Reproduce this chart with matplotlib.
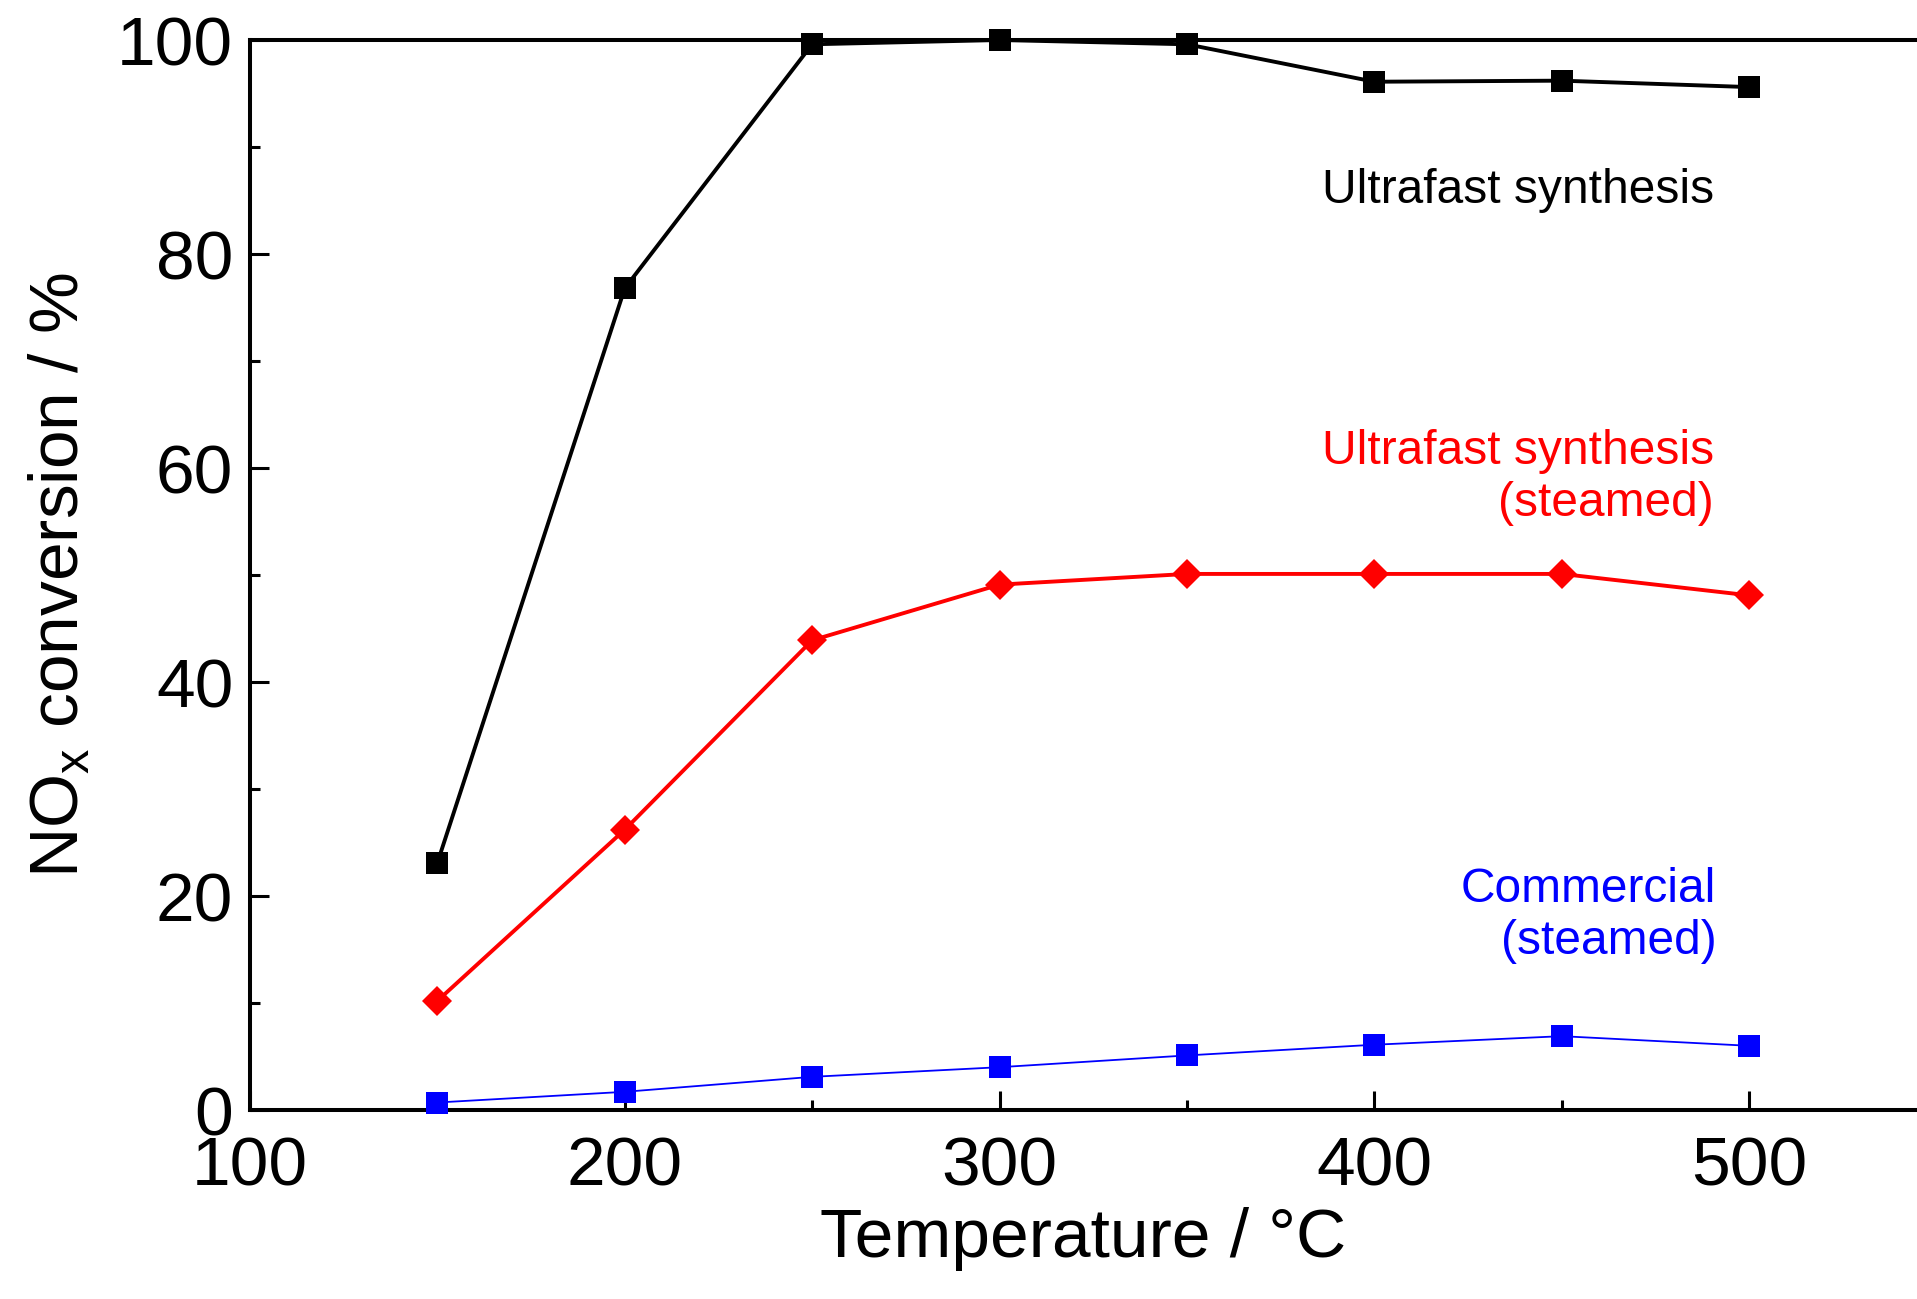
import numpy as np
import matplotlib.pyplot as plt
from matplotlib.ticker import MultipleLocator

plt.rcParams['font.family'] = ['Liberation Sans', 'DejaVu Sans']

temperature = [150, 200, 250, 300, 350, 400, 450, 500]
ultrafast = [23.1, 76.8, 99.6, 100.0, 99.6, 96.1, 96.2, 95.6]
ultrafast_steamed = [10.2, 26.2, 43.9, 49.1, 50.1, 50.1, 50.1, 48.1]
commercial_steamed = [0.7, 1.7, 3.1, 4.0, 5.1, 6.1, 6.9, 6.0]

fig = plt.figure(figsize=(19.17, 12.99), dpi=100)
ax = fig.add_axes([250 / 1917, 1 - 1110 / 1299, 1 - 250 / 1917, 1070 / 1299])

ax.plot(temperature, ultrafast, color='black', lw=2.8, marker='s', ms=16.5,
        mew=0, clip_on=False, zorder=3)
ax.plot(temperature, ultrafast_steamed, color='red', lw=2.8, marker='D', ms=15.5,
        mew=0, clip_on=False, zorder=3)
ax.plot(temperature, commercial_steamed, color='blue', lw=1.3, marker='s', ms=16.5,
        mew=0, clip_on=False, zorder=3)

ax.text(490.7, 85.9, 'Ultrafast synthesis', color='black', fontsize=34.5,
        ha='right', va='center')
ax.text(490.7, 59.1, 'Ultrafast synthesis\n(steamed)', color='red', fontsize=34.5,
        ha='right', va='center', multialignment='right')
ax.text(491.3, 18.2, 'Commercial\n(steamed)', color='blue', fontsize=34.5,
        ha='right', va='center', multialignment='right')

ax.set_xlim(100, 544.8)
ax.set_ylim(0, 100)
ax.xaxis.set_major_locator(MultipleLocator(100))
ax.xaxis.set_minor_locator(MultipleLocator(50))
ax.yaxis.set_major_locator(MultipleLocator(20))
ax.yaxis.set_minor_locator(MultipleLocator(10))

ax.spines['right'].set_visible(False)
for s in ['left', 'bottom', 'top']:
    ax.spines[s].set_linewidth(2.9)

ax.tick_params(which='major', direction='in', length=14, width=2.2,
               labelsize=50, pad=12)
ax.tick_params(axis='x', which='major', pad=18)
ax.tick_params(which='minor', direction='in', length=7, width=2.2)
ax.tick_params(top=False, right=False, which='both')

ax.set_xlabel('Temperature / °C', fontsize=50, labelpad=6)
ax.set_ylabel('NO$_\\mathregular{x}$ conversion / %', fontsize=50, labelpad=18)

plt.savefig('out.png', dpi=100)
